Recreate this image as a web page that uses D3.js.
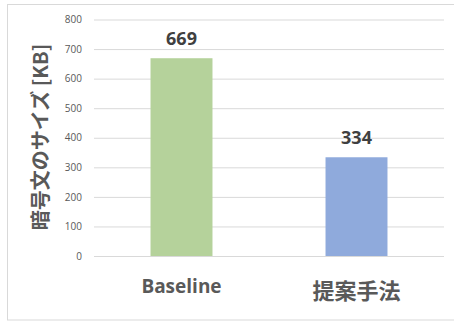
<!DOCTYPE html>
<html>
<head>
<meta charset="utf-8">
<script src="https://cdn.jsdelivr.net/npm/d3@7"></script>
<style>
	body { margin: 0; background: #fff; }
	svg { display: block; }
</style>
</head>
<body>
<svg id="chart"></svg>
<script>
	// data
	var categories = ["Baseline", "提案手法"];
	var sizes = [669, 334]; // KB
	var barColors = ["#B5D29B", "#8FAADC"];
	var yTicks = [0, 100, 200, 300, 400, 500, 600, 700, 800];
	var yTitle = "暗号文のサイズ [KB]";

	var width = 454, height = 322;
	var plot = { left: 94, right: 444, top: 19.5, bottom: 256 };
	var textColor = "#595959";
	var jpFont = "'Noto Sans CJK JP', 'Open Sans', sans-serif";

	var svg = d3.select("#chart").attr("width", width).attr("height", height);

	// chart area border
	svg.append("rect")
		.attr("x", 7.5).attr("y", 4.5)
		.attr("width", 460).attr("height", 315.5)
		.style("fill", "#fff").style("stroke", "#D9D9D9").style("stroke-width", 1);

	var x = d3.scaleBand()
		.domain(categories)
		.range([plot.left, plot.right])
		.paddingInner(0.646)
		.paddingOuter(0.323);

	var y = d3.scaleLinear().domain([0, 800]).range([plot.bottom, plot.top]);

	// gridlines + tick labels
	var yAxis = svg.append("g")
		.attr("transform", "translate(" + plot.left + ",0)")
		.call(d3.axisLeft(y).tickValues(yTicks).tickSize(-(plot.right - plot.left)).tickPadding(12));
	yAxis.select(".domain").remove();
	yAxis.selectAll("line").style("stroke", "#D9D9D9").style("stroke-width", 1);
	yAxis.selectAll("text")
		.style("fill", textColor)
		.style("font-family", "'Open Sans', sans-serif")
		.style("font-size", "10px");

	// bars
	svg.selectAll(".bar")
		.data(sizes)
		.enter().append("rect")
		.attr("class", "bar")
		.attr("x", function(d, i) { return x(categories[i]); })
		.attr("width", x.bandwidth())
		.attr("y", function(d) { return y(d); })
		.attr("height", function(d) { return y(0) - y(d); })
		.style("fill", function(d, i) { return barColors[i]; });

	// value labels
	svg.selectAll(".val")
		.data(sizes)
		.enter().append("text")
		.attr("class", "val")
		.attr("x", function(d, i) { return x(categories[i]) + x.bandwidth() / 2; })
		.attr("y", function(d) { return y(d) - 13; })
		.attr("text-anchor", "middle")
		.style("fill", "#404040")
		.style("font-family", "'Open Sans', sans-serif")
		.style("font-weight", "bold")
		.style("font-size", "18px")
		.text(function(d) { return d; });

	// category labels
	svg.selectAll(".cat")
		.data(categories)
		.enter().append("text")
		.attr("class", "cat")
		.attr("x", function(d) { return x(d) + x.bandwidth() / 2; })
		.attr("y", function(d, i) { return i == 0 ? 293 : 299; })
		.attr("text-anchor", "middle")
		.style("fill", textColor)
		.style("font-family", function(d, i) { return i == 0 ? "'Open Sans', sans-serif" : jpFont; })
		.style("font-weight", "bold")
		.style("font-size", function(d, i) { return i == 0 ? "19px" : "22px"; })
		.text(function(d) { return d; });

	// y axis title
	svg.append("text")
		.attr("transform", "translate(48,137) rotate(-90)")
		.attr("text-anchor", "middle")
		.style("fill", textColor)
		.style("font-family", jpFont)
		.style("font-weight", "bold")
		.style("font-size", "20px")
		.text(yTitle);
</script>
</body>
</html>
